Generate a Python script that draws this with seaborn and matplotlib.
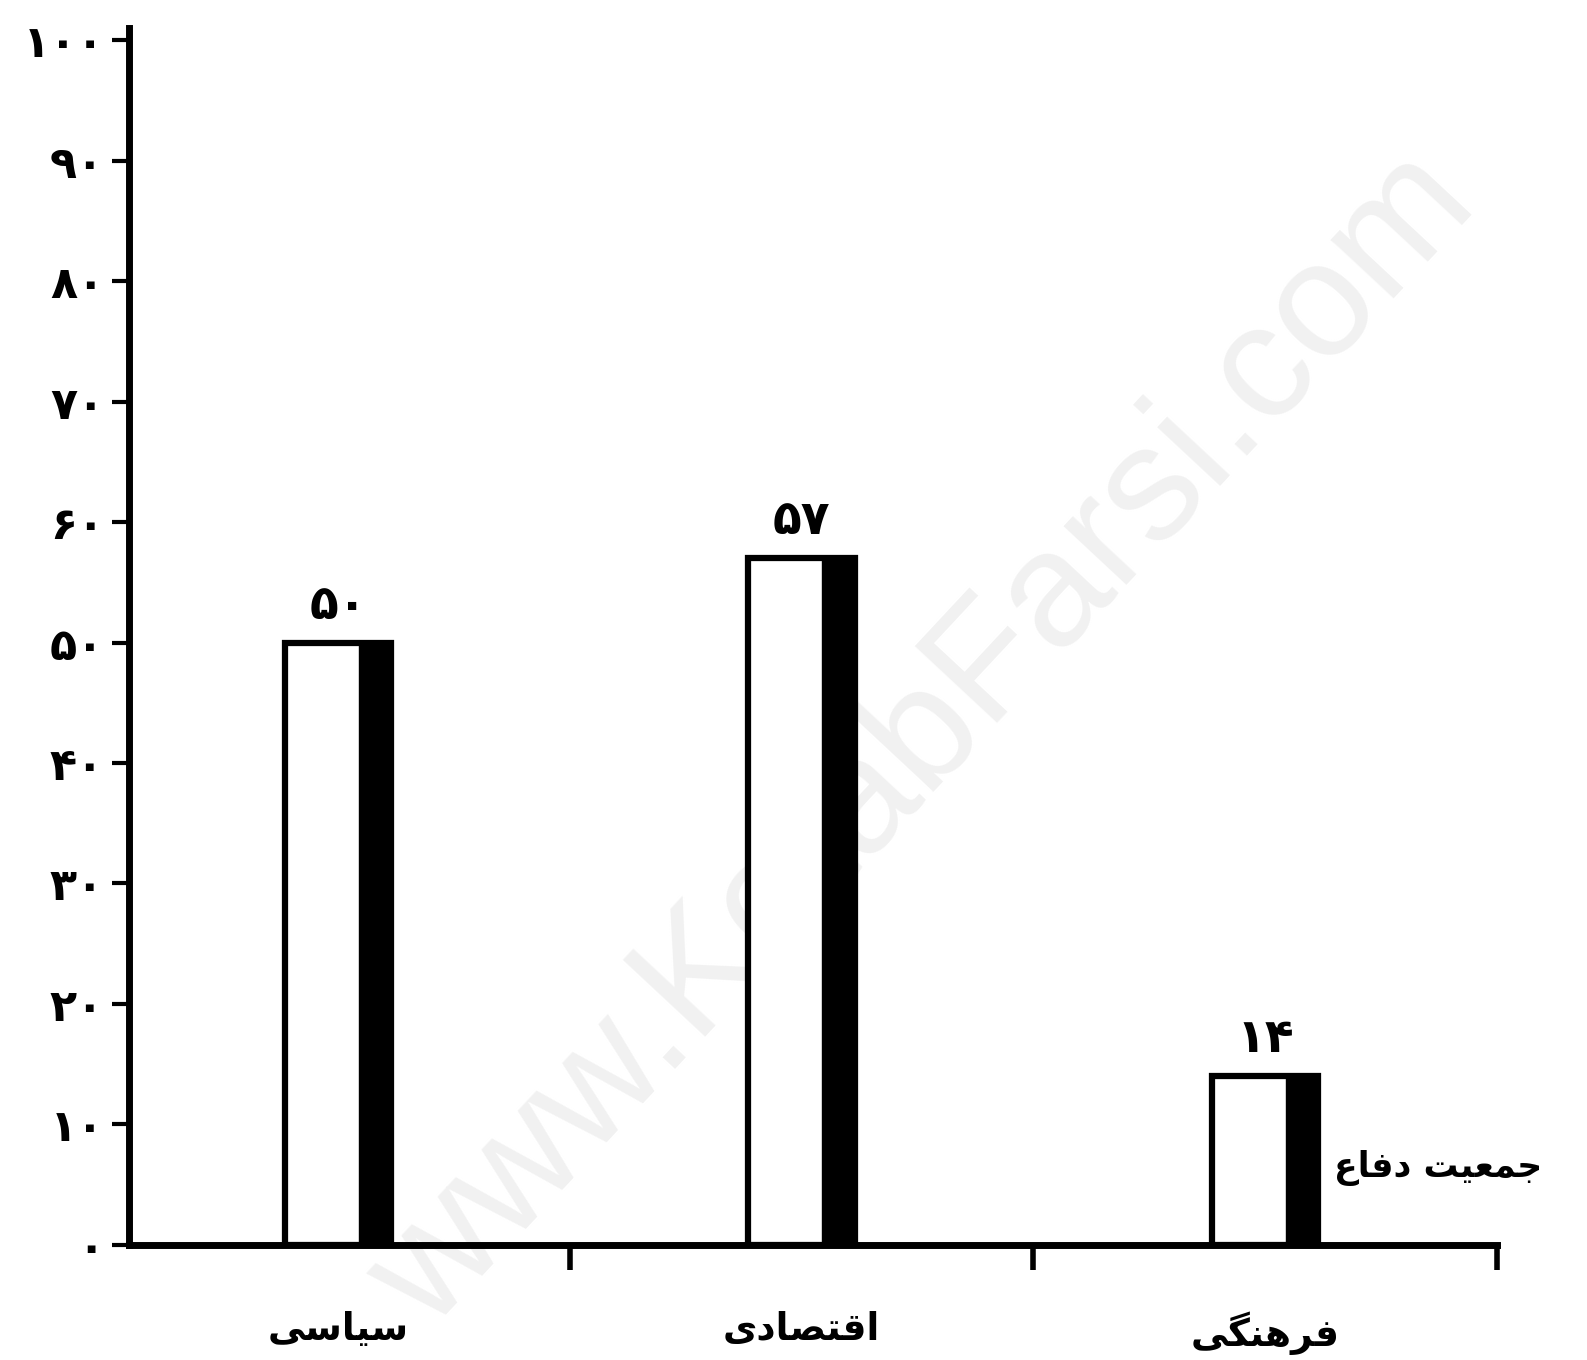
import numpy as np
import pandas as pd
import matplotlib
matplotlib.use('Agg')
import matplotlib.pyplot as plt
import seaborn as sns

categories = ['سیاسی', 'اقتصادی', 'فرهنگی']
values = [50, 57, 14]
series_label = 'جمعیت دفاع'
y_ticks = list(range(0, 101, 10))
watermark = 'www.KetabFarsi.com'

# matplotlib does no arabic shaping, so map letters to presentation forms by hand
# (iso, final) for letters that don't join forward, (iso, final, initial, medial) otherwise
FORMS = {
    'ا': ('\ufe8d', '\ufe8e'),
    'د': ('\ufea9', '\ufeaa'),
    'ر': ('\ufead', '\ufeae'),
    'س': ('\ufeb1', '\ufeb2', '\ufeb3', '\ufeb4'),
    'ص': ('\ufeb9', '\ufeba', '\ufebb', '\ufebc'),
    'ت': ('\ufe95', '\ufe96', '\ufe97', '\ufe98'),
    'ق': ('\ufed5', '\ufed6', '\ufed7', '\ufed8'),
    'ف': ('\ufed1', '\ufed2', '\ufed3', '\ufed4'),
    'ه': ('\ufee9', '\ufeea', '\ufeeb', '\ufeec'),
    'ن': ('\ufee5', '\ufee6', '\ufee7', '\ufee8'),
    'م': ('\ufee1', '\ufee2', '\ufee3', '\ufee4'),
    'ع': ('\ufec9', '\ufeca', '\ufecb', '\ufecc'),
    'ج': ('\ufe9d', '\ufe9e', '\ufe9f', '\ufea0'),
    'ی': ('\ufeef', '\ufef0', '\ufef3', '\ufef4'),
    'گ': ('\ufb92', '\ufb93', '\ufb94', '\ufb95'),
}


def shape(text):
    out = []
    for i, ch in enumerate(text):
        if ch not in FORMS:
            out.append(ch)
            continue
        prev = text[i - 1] if i > 0 else ''
        nxt = text[i + 1] if i < len(text) - 1 else ''
        join_prev = prev in FORMS and len(FORMS[prev]) == 4
        join_next = nxt in FORMS and len(FORMS[ch]) == 4
        f = FORMS[ch]
        if join_prev and join_next:
            out.append(f[3])
        elif join_prev:
            out.append(f[1])
        elif join_next:
            out.append(f[2])
        else:
            out.append(f[0])
    return ''.join(out)[::-1]


def fa(n):
    return str(n).translate(str.maketrans('0123456789', '۰۱۲۳۴۵۶۷۸۹'))


sns.set_style('white')
plt.rcParams['font.family'] = ['DejaVu Sans']
plt.rcParams['font.weight'] = 'bold'
plt.rcParams['text.color'] = 'black'
plt.rcParams['xtick.color'] = 'black'
plt.rcParams['ytick.color'] = 'black'

fig = plt.figure(figsize=(15.87, 13.6), dpi=100)
ax = fig.add_axes([0.0815, 0.0846, 0.8616, 0.8948])
ax.patch.set_facecolor('none')

df = pd.DataFrame({'cat': [shape(c) for c in categories], 'val': values})
sns.barplot(data=df, x='cat', y='val', color='white', edgecolor='black',
            linewidth=4.5, width=0.23, saturation=1, errorbar=None, ax=ax)

# dark side strip on each bar
ax.bar(np.arange(len(values)) + 0.045, values, width=0.07, align='edge',
       color='black', edgecolor='black', linewidth=1)

ax.bar_label(ax.containers[0], labels=[fa(v) for v in values], padding=10,
             fontsize=34, color='black')

ax.set_xlim(-0.45, 2.5)
ax.set_ylim(0, 101)
ax.set_yticks(y_ticks)
ax.set_yticklabels([fa(t) for t in y_ticks], fontsize=32)
ax.set_xticks([0.5, 1.5, 2.5], minor=True)
ax.tick_params(axis='y', left=True, length=12, width=3, pad=6, colors='black')
ax.tick_params(axis='x', which='major', bottom=False, length=0, pad=48, labelsize=27,
               colors='black')
ax.tick_params(axis='x', which='minor', bottom=True, length=18, width=4, colors='black')
ax.set_xlabel('')
ax.set_ylabel('')

sns.despine(ax=ax)
for s in ['left', 'bottom']:
    ax.spines[s].set_linewidth(5)
    ax.spines[s].set_color('black')

ax.text(2.15, 6.4, shape(series_label), ha='left', va='center', fontsize=25,
        color='black', clip_on=False)

fig.text(0.582, 0.455, watermark, rotation=47, ha='center', va='center', fontsize=118,
         color='#f1f1f1', family='Liberation Sans', weight='normal', zorder=-1)

fig.savefig('out.png', dpi=100)
